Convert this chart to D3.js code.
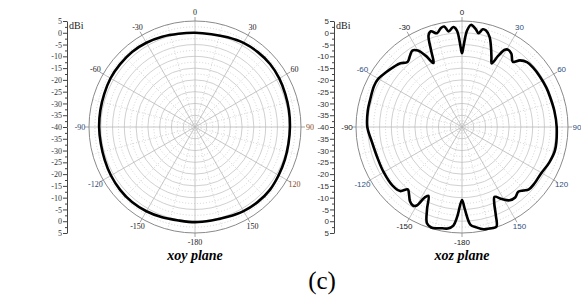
<!DOCTYPE html>
<html>
<head>
<meta charset="utf-8">
<script src="https://cdn.jsdelivr.net/npm/d3@7"></script>
<style>
  body { margin: 0; background: #fff; }
  svg { display: block; }
</style>
</head>
<body>
<svg id="chart" width="581" height="300"></svg>
<script>
// angle (deg, clockwise from top) and gain (dBi)
const xoyAngles = [-180, -170, -160, -150, -140, -130, -120, -110, -100, -90, -80, -70, -60, -50, -40, -30, -20, -10,
  0, 10, 20, 30, 40, 50, 60, 70, 80, 90, 100, 110, 120, 130, 140, 150, 160, 170];
const xoyGain = [0.4, 0.3, 0.8, 1.3, 1.6, 1.5, 1.2, 0.8, 0.6, 0.7, 0.8, 1.0, 1.4, 1.5, 1.6, 1.3, 0.8, 0.2,
  0, 0, 0.5, 1.2, 1.5, 1.6, 1.3, 0.8, 0.5, 0.3, 0.3, 0.6, 1.0, 1.5, 1.5, 1.2, 0.6, 0.3];

const xozAngles = [-180, -177, -175, -172, -169, -166, -163, -160, -157, -154, -152, -150, -148, -145, -142, -139, -136,
  -130, -120, -110, -100, -90, -80, -73, -65, -60, -54, -48, -44, -40, -36, -33, -30, -27, -24, -22, -20, -18, -15,
  -12, -10, -8, -5, -3, -1, 0, 1, 3, 5, 8, 10, 12, 14, 17, 20, 23, 25, 27, 29, 31, 34, 38, 41, 45, 50, 57, 65,
  71, 80, 90, 104, 112, 121, 128, 133, 136, 139, 143, 147, 151, 155, 157, 159, 161, 165, 168, 172, 175, 178];
const xozGain = [-9, -2, 2, 3.5, 3.8, 4.3, 4.6, 3.5, -2, -7.5, -6, -1.5, -0.7, -1.5, -3.5, -4.9, -2.2,
  -1.4, -1.6, -1.8, -1.3, 0.2, 0.6, 0.7, 1.2, 1.0, -0.3, -1.5, -2.4, -4, -2.5, -1.3, -2.5, -6, -10.3, -5, 1.5, 2.7, 1.2,
  3, 3.3, 1, 2.6, 1, -6, -8.7, -6, 1, 3.5, 2, 0.4, 2.4, 2.2, 0, -4, -8, -10.2, -6, -2.5, -1.8, -2.5, -4.9, -2.5, -1, -0.7, -0.6, -0.5,
  -0.5, -0.2, 0.2, 0.7, 0, -1.1, -1.0, -1.2, -2.5, -3.6, -2.5, -2.9, -5, -7.3, -5, 0, 4.8, 4.6, 4.4, 3, 1.7, -5];

const angleTicks = [0, 30, 60, 90, 120, 150, -180, -150, -120, -90, -60, -30];
const radialTicks = [5, 0, -5, -10, -15, -20, -25, -30, -35, -40];
const plotTitles = ["xoy plane", "xoz plane"];
const figureLabel = "(c)";

const svg = d3.select("#chart");
const R = 106, cy = 127;
const r = d3.scaleLinear().domain([-40, 5]).range([0, R]);
const rad = d => d * Math.PI / 180;

function drawPolar(cx, axisX, angles, gain, title, labelFont, labelColor) {
  const g = svg.append("g").attr("transform", `translate(${cx},${cy})`);

  // dotted minor rings
  g.selectAll("circle.minor")
    .data(d3.range(-37.5, 5, 5))
    .enter().append("circle")
    .attr("r", d => r(d))
    .attr("fill", "none")
    .attr("stroke", "#c8c8c8")
    .attr("stroke-width", 0.8)
    .attr("stroke-dasharray", "1,2");

  // solid rings
  g.selectAll("circle.major")
    .data(radialTicks.filter(d => d > -40 && d < 5))
    .enter().append("circle")
    .attr("r", d => r(d))
    .attr("fill", "none")
    .attr("stroke", "#c4c4c4")
    .attr("stroke-width", 0.8);

  // dotted minor spokes
  g.selectAll("line.minspoke")
    .data(d3.range(15, 360, 30))
    .enter().append("line")
    .attr("x1", 0).attr("y1", 0)
    .attr("x2", d => R * Math.sin(rad(d)))
    .attr("y2", d => -R * Math.cos(rad(d)))
    .attr("stroke", "#c8c8c8")
    .attr("stroke-width", 0.8)
    .attr("stroke-dasharray", "1,2");

  // spokes
  g.selectAll("line.spoke")
    .data(d3.range(0, 360, 30))
    .enter().append("line")
    .attr("x1", 0).attr("y1", 0)
    .attr("x2", d => R * Math.sin(rad(d)))
    .attr("y2", d => -R * Math.cos(rad(d)))
    .attr("stroke", "#b8b8b8")
    .attr("stroke-width", 0.8);

  // outer circle + ticks
  g.append("circle")
    .attr("r", R)
    .attr("fill", "none")
    .attr("stroke", "#8a8a8a")
    .attr("stroke-width", 1);

  g.selectAll("line.otick")
    .data(d3.range(0, 360, 30))
    .enter().append("line")
    .attr("x1", d => R * Math.sin(rad(d)))
    .attr("y1", d => -R * Math.cos(rad(d)))
    .attr("x2", d => (R + 4) * Math.sin(rad(d)))
    .attr("y2", d => -(R + 4) * Math.cos(rad(d)))
    .attr("stroke", "#8a8a8a")
    .attr("stroke-width", 0.8);

  // angle labels
  g.selectAll("text.ang")
    .data(angleTicks)
    .enter().append("text")
    .attr("x", d => 115 * Math.sin(rad(d)))
    .attr("y", d => -115 * Math.cos(rad(d)))
    .attr("dy", "0.35em")
    .attr("text-anchor", "middle")
    .attr("font-family", labelFont)
    .attr("font-size", "8px")
    .attr("fill", d => labelColor(d))
    .text(d => d);

  // pattern curve
  const pts = angles.map((a, i) => [rad(a), r(gain[i])]);
  const line = d3.lineRadial()
    .angle(d => d[0])
    .radius(d => d[1])
    .curve(d3.curveCatmullRomClosed.alpha(0.5));
  g.append("path")
    .datum(pts)
    .attr("d", line)
    .attr("fill", "none")
    .attr("stroke", "#000")
    .attr("stroke-width", 2.6)
    .attr("stroke-linejoin", "round");

  // radial axis (mirrored top/bottom)
  const yTop = d3.scaleLinear().domain([5, -40]).range([cy - R, cy]);
  const yBot = d3.scaleLinear().domain([-40, 5]).range([cy, cy + R]);
  const ax = svg.append("g").attr("transform", `translate(${axisX},0)`);
  [[yTop, radialTicks], [yBot, radialTicks.filter(d => d > -40)]].forEach(([sc, tv]) => {
    const a = ax.append("g")
      .call(d3.axisLeft(sc).tickValues(tv).tickSize(4).tickSizeOuter(0).tickFormat(d => String(d)));
    a.select(".domain").attr("stroke", "#444");
    a.selectAll(".tick line").attr("stroke", "#444");
    a.selectAll(".tick text")
      .attr("font-family", labelFont)
      .attr("font-size", "8px")
      .attr("fill", "#333")
      .attr("x", -5);
    ax.append("g")
      .call(d3.axisLeft(sc).tickValues(d3.range(2.5, -40, -5)).tickSize(2).tickFormat(""))
      .call(s => s.select(".domain").remove())
      .selectAll(".tick line").attr("stroke", "#444");
  });
  ax.append("text")
    .attr("x", 2).attr("y", 29)
    .attr("font-family", "Liberation Serif, serif")
    .attr("font-size", "10px")
    .attr("fill", "#222")
    .text("dBi");

  svg.append("text")
    .attr("x", cx).attr("y", 260)
    .attr("text-anchor", "middle")
    .attr("font-family", "Liberation Serif, serif")
    .attr("font-weight", "bold")
    .attr("font-style", "italic")
    .attr("font-size", "14px")
    .text(title);
}

drawPolar(195, 67, xoyAngles, xoyGain, plotTitles[0], "Liberation Serif, serif",
  d => (d === 90 || d === 120) ? "#8a4a1c" : (d === -90 || d === -120) ? "#2c4470" : "#222");
drawPolar(462, 334, xozAngles, xozGain, plotTitles[1], "Liberation Sans, Arial, sans-serif",
  d => (d > 0 && d < 180) || d === -60 || d === -120 ? "#2f4f7f" : "#222");

svg.append("text")
  .attr("x", 322).attr("y", 289)
  .attr("text-anchor", "middle")
  .attr("font-family", "Liberation Serif, serif")
  .attr("font-size", "25px")
  .text(figureLabel);
</script>
</body>
</html>
